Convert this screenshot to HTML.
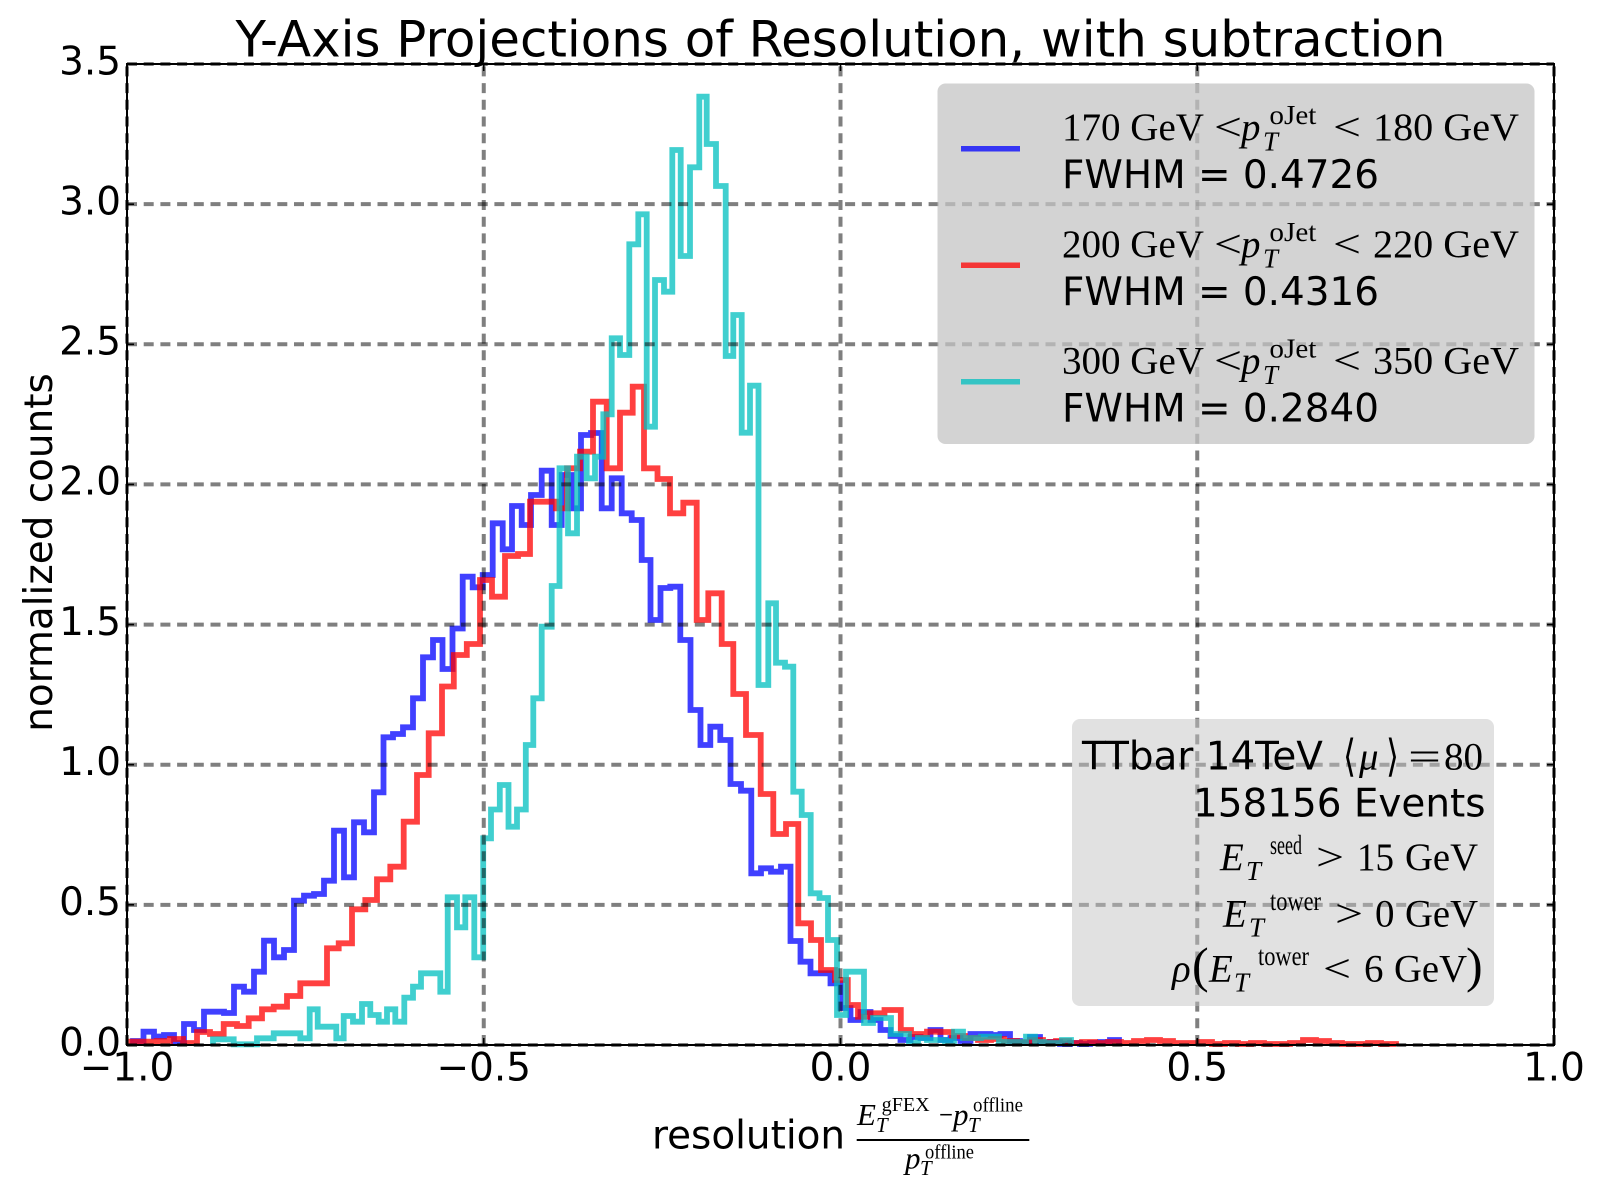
<!DOCTYPE html>
<html>
<head>
<meta charset="utf-8">
<style>
  html, body { margin: 0; padding: 0; background: #ffffff; }
  svg { display: block; }
  .sans { font-family: "DejaVu Sans", "Liberation Sans", sans-serif; }
  .serif { font-family: "Liberation Serif", "DejaVu Serif", serif; }
  .it { font-style: italic; }
</style>
</head>
<body>
<svg width="1600" height="1200" viewBox="0 0 1600 1200" xmlns="http://www.w3.org/2000/svg">
  <rect x="0" y="0" width="1600" height="1200" fill="#ffffff"/>

  <!-- Histograms -->
  <g fill="none" stroke-width="5.8" stroke-linejoin="miter" stroke-opacity="0.75">
    <path stroke="#0000ff" d="M133,1045 V1041 H143.5 V1031.7 H154 V1036.5 H164 V1035 H174 V1043 H184 V1024 H194 V1030 H204 V1011.7 H224 V1013 H234 V986.7 H244 V991.7 H254 V971.7 H264 V940.7 H274 V957.3 H284 V950 H294 V900.7 H304 V895.7 H314 V894 H324 V880.7 H334 V830.7 H344 V877.3 H354 V822.3 H364 V832.3 H374 V792.3 H383.5 V737.3 H393 V734 H403 V727.3 H413 V698.3 H423 V657.3 H433 V640 H442.5 V669 H452.5 V628.5 H462.7 V576.7 H472.7 V587.3 H482.7 V575 H492.7 V523.3 H502.7 V549.3 H512 V506 H521.7 V525 H531 V495 H541.7 V470.7 H551.7 V525 H561.7 V475 H571.7 V508.3 H581 V435 H591 V433 H601.7 V508.3 H611.7 V478.3 H621.7 V513.3 H631.7 V520 H641.7 V560 H650.5 V620 H660.5 V588 H670.3 V586.7 H680.3 V640 H690.5 V710 H700.5 V745 H710.3 V726.7 H720.3 V740 H730.5 V784 H741 V790.7 H751.3 V873.3 H761 V868.3 H771 V871.7 H781 V866.7 H790.5 V941 H800.5 V961.7 H810.5 V973.3 H830.5 V983.3 H840.5 V1008 H850.5 V1020 H860.5 V1012 H870.5 V1020 H880.5 V1030 H890.5 V1036 H900.5 V1040 H910.5 V1037 H920.5 V1038 H930.5 V1030 H940.5 V1040 H950.5 V1038 H960.5 V1041 H970.5 V1034 H990.5 V1035 H1000.5 V1034 H1010 V1041 H1020 V1043 H1030 V1037 H1040 V1043 H1050 V1042 H1060 V1044 H1070 V1043 H1080 V1044 H1090 V1043 H1100 V1042 H1110 V1040 H1119 V1045"/>
    <path stroke="#ff0000" d="M131,1045 V1041.7 H157 V1041 H170 V1039 H183 V1043 H197 V1032 H210 V1034 H223.7 V1024 H237 V1026 H248.7 V1018.3 H262 V1009.3 H273.7 V1006.7 H287 V996 H300.3 V983.3 H327 V948.3 H338.7 V943.3 H352 V909.3 H365.3 V900 H377 V879.3 H390.3 V866.7 H403.7 V821.7 H417 V775 H428.7 V733.3 H442 V686.5 H453.8 V655 H466.8 V644 H480 V580 H492 V596.7 H505 V556 H518 V554 H530 V501.7 H556 V508.3 H567 V468.3 H580 V451.7 H593 V401.7 H606.7 V468.3 H620 V412.7 H632.7 V386.7 H644 V468.3 H657.5 V479 H670 V513.3 H683.3 V502.7 H696.7 V620 H708.3 V593.3 H721.7 V644 H733.3 V694 H746 V735 H760.7 V794 H773.3 V834 H786 V824 H798.3 V923.3 H811 V940 H821 V970 H835 V980 H847.8 V1005 H858 V1016.7 H868 V1013.3 H884.5 V1010 H900.8 V1030 H911 V1034 H927 V1031.7 H940 V1032 H952 V1036 H965 V1038 H978 V1040 H991 V1039 H1004 V1041 H1017 V1042 H1030 V1040 H1043 V1042 H1056 V1041 H1069 V1043 H1082 V1042 H1095 V1043 H1108 V1042 H1121 V1043 H1134 V1041 H1147 V1040 H1160 V1041 H1173 V1043 H1199 V1042 H1212 V1044 H1225 V1043 H1238 V1044 H1251 V1043 H1264 V1044 H1290 V1043 H1303 V1040 H1316 V1041 H1329 V1043 H1342 V1044 H1368 V1043 H1381 V1044 H1396 V1045"/>
    <path stroke="#00bfbf" d="M213,1045 V1039.3 H233.7 V1044.3 H257 V1038.3 H273.7 V1033.3 H300.3 V1038.3 H309.7 V1009.3 H317.7 V1026.7 H336.3 V1038.3 H343.7 V1016 H353 V1021.7 H362 V1004 H370.3 V1015 H378.7 V1021.7 H387 V1009.3 H395.3 V1021.7 H404.3 V997.7 H413 V986.7 H421 V973.3 H440.3 V991.7 H447.7 V897.3 H457 V927.3 H465.3 V897.3 H474.3 V957.3 H483.2 V838.3 H491 V809.5 H499.8 V785 H508.5 V826.7 H517 V809.5 H525.8 V745 H533.3 V698.3 H541.7 V626.7 H551.7 V586 H559.5 V468.3 H568 V533.3 H577 V456.7 H586.7 V478.3 H595 V456.7 H603.3 V414.3 H611.7 V338.3 H620 V355 H629.3 V244.3 H638.3 V214.3 H646.7 V426.7 H655 V280 H664 V291.7 H672.3 V150 H680.7 V256 H690 V167.3 H699.3 V96.7 H706.7 V144 H716 V186 H725.7 V356 H733.3 V315 H741.7 V432.7 H750 V385.7 H758.5 V685 H768.3 V603.3 H776 V662.7 H785 V666.7 H793.3 V791.7 H801.7 V815 H810.7 V893.3 H819.5 V898 H828 V940 H837 V1015 H846 V971.7 H864 V1023 H873 V1018 H891 V1034 H909 V1043 H918 V1038 H927 V1040 H945 V1041 H954 V1031.7 H963 V1038 H981 V1036.7 H999 V1042 H1026 V1036.7 H1035 V1042 H1044 V1043 H1062 V1040 H1071 V1045"/>
  </g>

  <!-- Grid -->
  <g stroke="#000000" stroke-opacity="0.5" stroke-width="4" stroke-dasharray="10 6.7" fill="none">
    <path d="M127,1045 H1554"/>
    <path d="M127,904.86 H1554"/>
    <path d="M127,764.71 H1554"/>
    <path d="M127,624.57 H1554"/>
    <path d="M127,484.43 H1554"/>
    <path d="M127,344.29 H1554"/>
    <path d="M127,204.14 H1554"/>
    <path d="M127,64 H1554"/>
    <path d="M127,1045 V64"/>
    <path d="M483.75,1045 V64"/>
    <path d="M840.5,1045 V64"/>
    <path d="M1197.25,1045 V64"/>
    <path d="M1554,1045 V64"/>
  </g>

  <!-- Ticks -->
  <g stroke="#000000" stroke-width="1.6">
    <path d="M483.75,1045 V1038 M840.5,1045 V1038 M1197.25,1045 V1038"/>
    <path d="M483.75,64 V71 M840.5,64 V71 M1197.25,64 V71"/>
    <path d="M127,904.86 H134 M127,764.71 H134 M127,624.57 H134 M127,484.43 H134 M127,344.29 H134 M127,204.14 H134"/>
    <path d="M1554,904.86 H1547 M1554,764.71 H1547 M1554,624.57 H1547 M1554,484.43 H1547 M1554,344.29 H1547 M1554,204.14 H1547"/>
  </g>

  <!-- Axes frame -->
  <rect x="127" y="64" width="1427" height="981" fill="none" stroke="#000000" stroke-width="2"/>

  <!-- Title -->
  <text class="sans" x="840.5" y="56.7" font-size="49.5" text-anchor="middle" textLength="1210" lengthAdjust="spacingAndGlyphs" fill="#000">Y-Axis Projections of Resolution, with subtraction</text>

  <!-- Y tick labels -->
  <g class="sans" font-size="38.9" text-anchor="end" fill="#000">
    <text x="121" y="1055.3">0.0</text>
    <text x="121" y="915.2">0.5</text>
    <text x="121" y="775">1.0</text>
    <text x="121" y="634.9">1.5</text>
    <text x="121" y="494.7">2.0</text>
    <text x="121" y="354.6">2.5</text>
    <text x="121" y="214.4">3.0</text>
    <text x="121" y="74.3">3.5</text>
  </g>

  <!-- X tick labels -->
  <g class="sans" font-size="38.9" text-anchor="middle" fill="#000">
    <text x="127" y="1080.7">−1.0</text>
    <text x="483.75" y="1080.7">−0.5</text>
    <text x="840.5" y="1080.7">0.0</text>
    <text x="1197.25" y="1080.7">0.5</text>
    <text x="1554" y="1080.7">1.0</text>
  </g>

  <!-- Y label -->
  <text class="sans" font-size="38.9" text-anchor="middle" transform="translate(52,552.5) rotate(-90)" fill="#000">normalized counts</text>

  <!-- X label -->
  <text class="sans" x="652" y="1148.3" font-size="38.9" fill="#000">resolution</text>
  <line x1="856.7" y1="1140" x2="1029.3" y2="1140" stroke="#000" stroke-width="2"/>
  <g class="serif" fill="#000">
    <text class="it" x="857" y="1125" font-size="31">E</text>
    <text class="it" x="876" y="1132" font-size="21">T</text>
    <text x="881.7" y="1111" font-size="20" textLength="48" lengthAdjust="spacingAndGlyphs">gFEX</text>
    <text x="939" y="1125" font-size="31" textLength="14" lengthAdjust="spacingAndGlyphs">−</text>
    <text class="it" x="953" y="1125" font-size="31">p</text>
    <text class="it" x="968" y="1132" font-size="21">T</text>
    <text x="973" y="1111.7" font-size="20" textLength="50" lengthAdjust="spacingAndGlyphs">offline</text>
    <text class="it" x="905" y="1168.3" font-size="31">p</text>
    <text class="it" x="920" y="1175" font-size="21">T</text>
    <text x="925" y="1158.3" font-size="20" textLength="49" lengthAdjust="spacingAndGlyphs">offline</text>
  </g>

  <!-- Legend -->
  <rect x="937.5" y="83.5" width="597" height="360.5" rx="8" ry="8" fill="#c4c4c4" fill-opacity="0.75"/>
  <g stroke-width="5.5" stroke-opacity="0.75">
    <line x1="961" y1="148.7" x2="1020" y2="148.7" stroke="#0000ff"/>
    <line x1="961" y1="265.2" x2="1020" y2="265.2" stroke="#ff0000"/>
    <line x1="961" y1="381.7" x2="1020" y2="381.7" stroke="#00bfbf"/>
  </g>
  <g fill="#000">
    <!-- entry 1 -->
    <g class="serif">
      <text x="1062" y="140" font-size="38.9" textLength="142" lengthAdjust="spacingAndGlyphs">170 GeV</text>
      <text x="1214" y="140" font-size="38.9" textLength="28" lengthAdjust="spacingAndGlyphs">&lt;</text>
      <text class="it" x="1241" y="140" font-size="38.9">p</text>
      <text class="it" x="1263" y="150.7" font-size="27">T</text>
      <text x="1269.4" y="124" font-size="27" textLength="47" lengthAdjust="spacingAndGlyphs">oJet</text>
      <text x="1333" y="140" font-size="38.9" textLength="28" lengthAdjust="spacingAndGlyphs">&lt;</text>
      <text x="1373" y="140" font-size="38.9" textLength="146" lengthAdjust="spacingAndGlyphs">180 GeV</text>
    </g>
    <text class="sans" x="1062" y="188" font-size="38.9">FWHM = 0.4726</text>
    <!-- entry 2 -->
    <g class="serif">
      <text x="1062" y="257" font-size="38.9" textLength="142" lengthAdjust="spacingAndGlyphs">200 GeV</text>
      <text x="1214" y="257" font-size="38.9" textLength="28" lengthAdjust="spacingAndGlyphs">&lt;</text>
      <text class="it" x="1241" y="257" font-size="38.9">p</text>
      <text class="it" x="1263" y="267.7" font-size="27">T</text>
      <text x="1269.4" y="241" font-size="27" textLength="47" lengthAdjust="spacingAndGlyphs">oJet</text>
      <text x="1333" y="257" font-size="38.9" textLength="28" lengthAdjust="spacingAndGlyphs">&lt;</text>
      <text x="1373" y="257" font-size="38.9" textLength="146" lengthAdjust="spacingAndGlyphs">220 GeV</text>
    </g>
    <text class="sans" x="1062" y="305" font-size="38.9">FWHM = 0.4316</text>
    <!-- entry 3 -->
    <g class="serif">
      <text x="1062" y="373.5" font-size="38.9" textLength="142" lengthAdjust="spacingAndGlyphs">300 GeV</text>
      <text x="1214" y="373.5" font-size="38.9" textLength="28" lengthAdjust="spacingAndGlyphs">&lt;</text>
      <text class="it" x="1241" y="373.5" font-size="38.9">p</text>
      <text class="it" x="1263" y="384.2" font-size="27">T</text>
      <text x="1269.4" y="357.5" font-size="27" textLength="47" lengthAdjust="spacingAndGlyphs">oJet</text>
      <text x="1333" y="373.5" font-size="38.9" textLength="28" lengthAdjust="spacingAndGlyphs">&lt;</text>
      <text x="1373" y="373.5" font-size="38.9" textLength="146" lengthAdjust="spacingAndGlyphs">350 GeV</text>
    </g>
    <text class="sans" x="1062" y="421.7" font-size="38.9">FWHM = 0.2840</text>
  </g>

  <!-- Stats box -->
  <rect x="1072" y="719" width="422" height="287" rx="8" ry="8" fill="#c4c4c4" fill-opacity="0.5"/>
  <g fill="#000">
    <text class="sans" x="1082" y="769.3" font-size="38.9">TTbar 14TeV</text>
    <text x="1343" y="771" font-size="44" font-family="'DejaVu Sans', 'DejaVu Serif', serif" textLength="13" lengthAdjust="spacingAndGlyphs">⟨</text>
    <text class="serif it" x="1359" y="769.3" font-size="38.9">μ</text>
    <text x="1386" y="771" font-size="44" font-family="'DejaVu Sans', 'DejaVu Serif', serif" textLength="13" lengthAdjust="spacingAndGlyphs">⟩</text>
    <text class="serif" x="1408" y="769.3" font-size="38.9" textLength="33" lengthAdjust="spacingAndGlyphs">=</text>
    <text class="serif" x="1444" y="769.3" font-size="38.9" textLength="39" lengthAdjust="spacingAndGlyphs">80</text>

    <text class="sans" x="1193" y="816.7" font-size="38.9">158156 Events</text>

    <g class="serif">
      <text class="it" x="1220" y="870" font-size="38.9">E</text>
      <text class="it" x="1246" y="880" font-size="27">T</text>
      <text x="1270" y="854" font-size="27" textLength="32" lengthAdjust="spacingAndGlyphs">seed</text>
      <text x="1316" y="870" font-size="38.9" textLength="28" lengthAdjust="spacingAndGlyphs">&gt;</text>
      <text x="1357" y="870" font-size="38.9" textLength="37" lengthAdjust="spacingAndGlyphs">15</text>
      <text x="1405" y="870" font-size="38.9" textLength="73" lengthAdjust="spacingAndGlyphs">GeV</text>

      <text class="it" x="1223" y="926.7" font-size="38.9">E</text>
      <text class="it" x="1249" y="936.7" font-size="27">T</text>
      <text x="1270" y="910" font-size="27" textLength="51" lengthAdjust="spacingAndGlyphs">tower</text>
      <text x="1335" y="926.7" font-size="38.9" textLength="28" lengthAdjust="spacingAndGlyphs">&gt;</text>
      <text x="1375" y="926.7" font-size="38.9" textLength="19.5" lengthAdjust="spacingAndGlyphs">0</text>
      <text x="1405" y="926.7" font-size="38.9" textLength="73" lengthAdjust="spacingAndGlyphs">GeV</text>

      <text class="it" x="1172" y="981.7" font-size="38.9">ρ</text>
      <text x="1192" y="982" font-size="50">(</text>
      <text class="it" x="1209" y="981.7" font-size="38.9">E</text>
      <text class="it" x="1234" y="991.7" font-size="27">T</text>
      <text x="1258" y="965" font-size="27" textLength="51" lengthAdjust="spacingAndGlyphs">tower</text>
      <text x="1323" y="981.7" font-size="38.9" textLength="28" lengthAdjust="spacingAndGlyphs">&lt;</text>
      <text x="1364" y="981.7" font-size="38.9" textLength="19.5" lengthAdjust="spacingAndGlyphs">6</text>
      <text x="1394" y="981.7" font-size="38.9" textLength="73" lengthAdjust="spacingAndGlyphs">GeV</text>
      <text x="1466" y="982" font-size="50">)</text>
    </g>
  </g>
</svg>
</body>
</html>
